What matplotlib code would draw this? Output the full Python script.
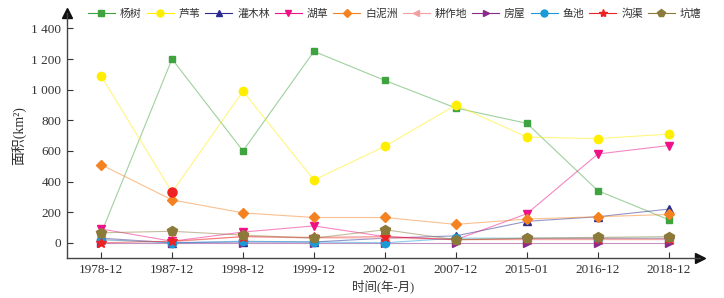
import matplotlib
matplotlib.use("Agg")
import matplotlib.pyplot as plt
import numpy as np

plt.rcParams['font.family'] = ['Liberation Serif', 'Noto Sans CJK SC']
plt.rcParams['axes.unicode_minus'] = False

dates = ["1978-12", "1987-12", "1998-12", "1999-12", "2002-01", "2007-12", "2015-01", "2016-12", "2018-12"]
names = ["杨树", "芦苇", "灌木林", "湖草", "白泥洲", "耕作地", "房屋", "鱼池", "沟渠", "坑塘"]

yangshu = [60, 1200, 600, 1250, 1060, 880, 780, 340, 150]
luwei = [1090, 330, 990, 410, 630, 900, 690, 680, 710]
guanmulin = [30, 0, 5, 5, 30, 45, 140, 170, 220]
hucao = [90, 10, 70, 110, 40, 20, 190, 580, 635]
bainizhou = [510, 280, 195, 165, 165, 120, 155, 170, 185]
gengzuodi = [20, 5, 40, 30, 30, 20, 20, 20, 20]
fangwu = [0, 0, 0, 0, 0, 0, 0, 0, 0]
yuchi = [20, 0, 10, 5, 0, 30, 30, 30, 30]
gouqu = [0, 10, 40, 35, 40, 20, 25, 25, 25]
kengtang = [65, 75, 50, 30, 85, 20, 30, 35, 40]

series = [yangshu, luwei, guanmulin, hucao, bainizhou, gengzuodi, fangwu, yuchi, gouqu, kengtang]
colors = ["#3fa33f", "#ffee00", "#2b2b90", "#ee1188", "#f58220", "#f4a0a0", "#8b2a8b", "#1a9ad6", "#ee2222", "#8b7a3a"]
markers = ["s", "o", "^", "v", "D", "<", ">", "o", "*", "p"]
msizes = [5, 6, 6, 6, 5, 6, 6, 6, 7, 7]

fig = plt.figure(figsize=(7.24, 2.98), dpi=100)
ax = fig.add_axes([0.0925, 0.134, 0.8745, 0.822])
x = np.arange(len(dates))
handles = []
for s, c, m, ms, n in zip(series, colors, markers, msizes, names):
    ax.plot(x, s, color=c, lw=0.8, alpha=0.5, zorder=2)
    ax.plot(x, s, ls='none', marker=m, ms=ms, color=c, mec=c, zorder=3)
    h, = ax.plot([], [], color=c, lw=0.8, marker=m, ms=ms - 1, mec=c, label=n)
    handles.append(h)
# highlighted point (red) on 芦苇 in 1987-12
ax.plot(x[1], luwei[1], 'o', color="#ee2222", ms=6.5, zorder=4)

ax.set_xlim(-0.48, 8.44)
ax.set_ylim(-100, 1500)
ax.set_xticks(x)
ax.set_xticklabels(dates)
yt = [0, 200, 400, 600, 800, 1000, 1200, 1400]
ax.set_yticks(yt)
ax.set_yticklabels([f"{v:,}".replace(",", " ") for v in yt])
ax.tick_params(direction='in', length=4, width=0.8, labelsize=9.5, colors='#333333', pad=4)
for sp in ['top', 'right']:
    ax.spines[sp].set_visible(False)
for sp in ['left', 'bottom']:
    ax.spines[sp].set_color('#444444')
    ax.spines[sp].set_linewidth(1.0)
ax.plot([1.0], [0], marker='>', color='#111111', ms=7, transform=ax.transAxes, clip_on=False)
ax.plot([0], [1.0], marker='^', color='#111111', ms=7, transform=ax.transAxes, clip_on=False)

ax.set_xlabel("时间(年-月)", fontsize=9, color='#333333', labelpad=3)
ax.set_ylabel("面积(km²)", fontsize=10, color='#333333', labelpad=3)

fig.legend(handles=handles, loc='upper left', bbox_to_anchor=(0.108, 1.005), ncol=10, frameon=False,
           fontsize=7.8, handlelength=2.5, handletextpad=0.45, columnspacing=0.45, labelcolor='#333333')

fig.savefig("out.png", dpi=100)
